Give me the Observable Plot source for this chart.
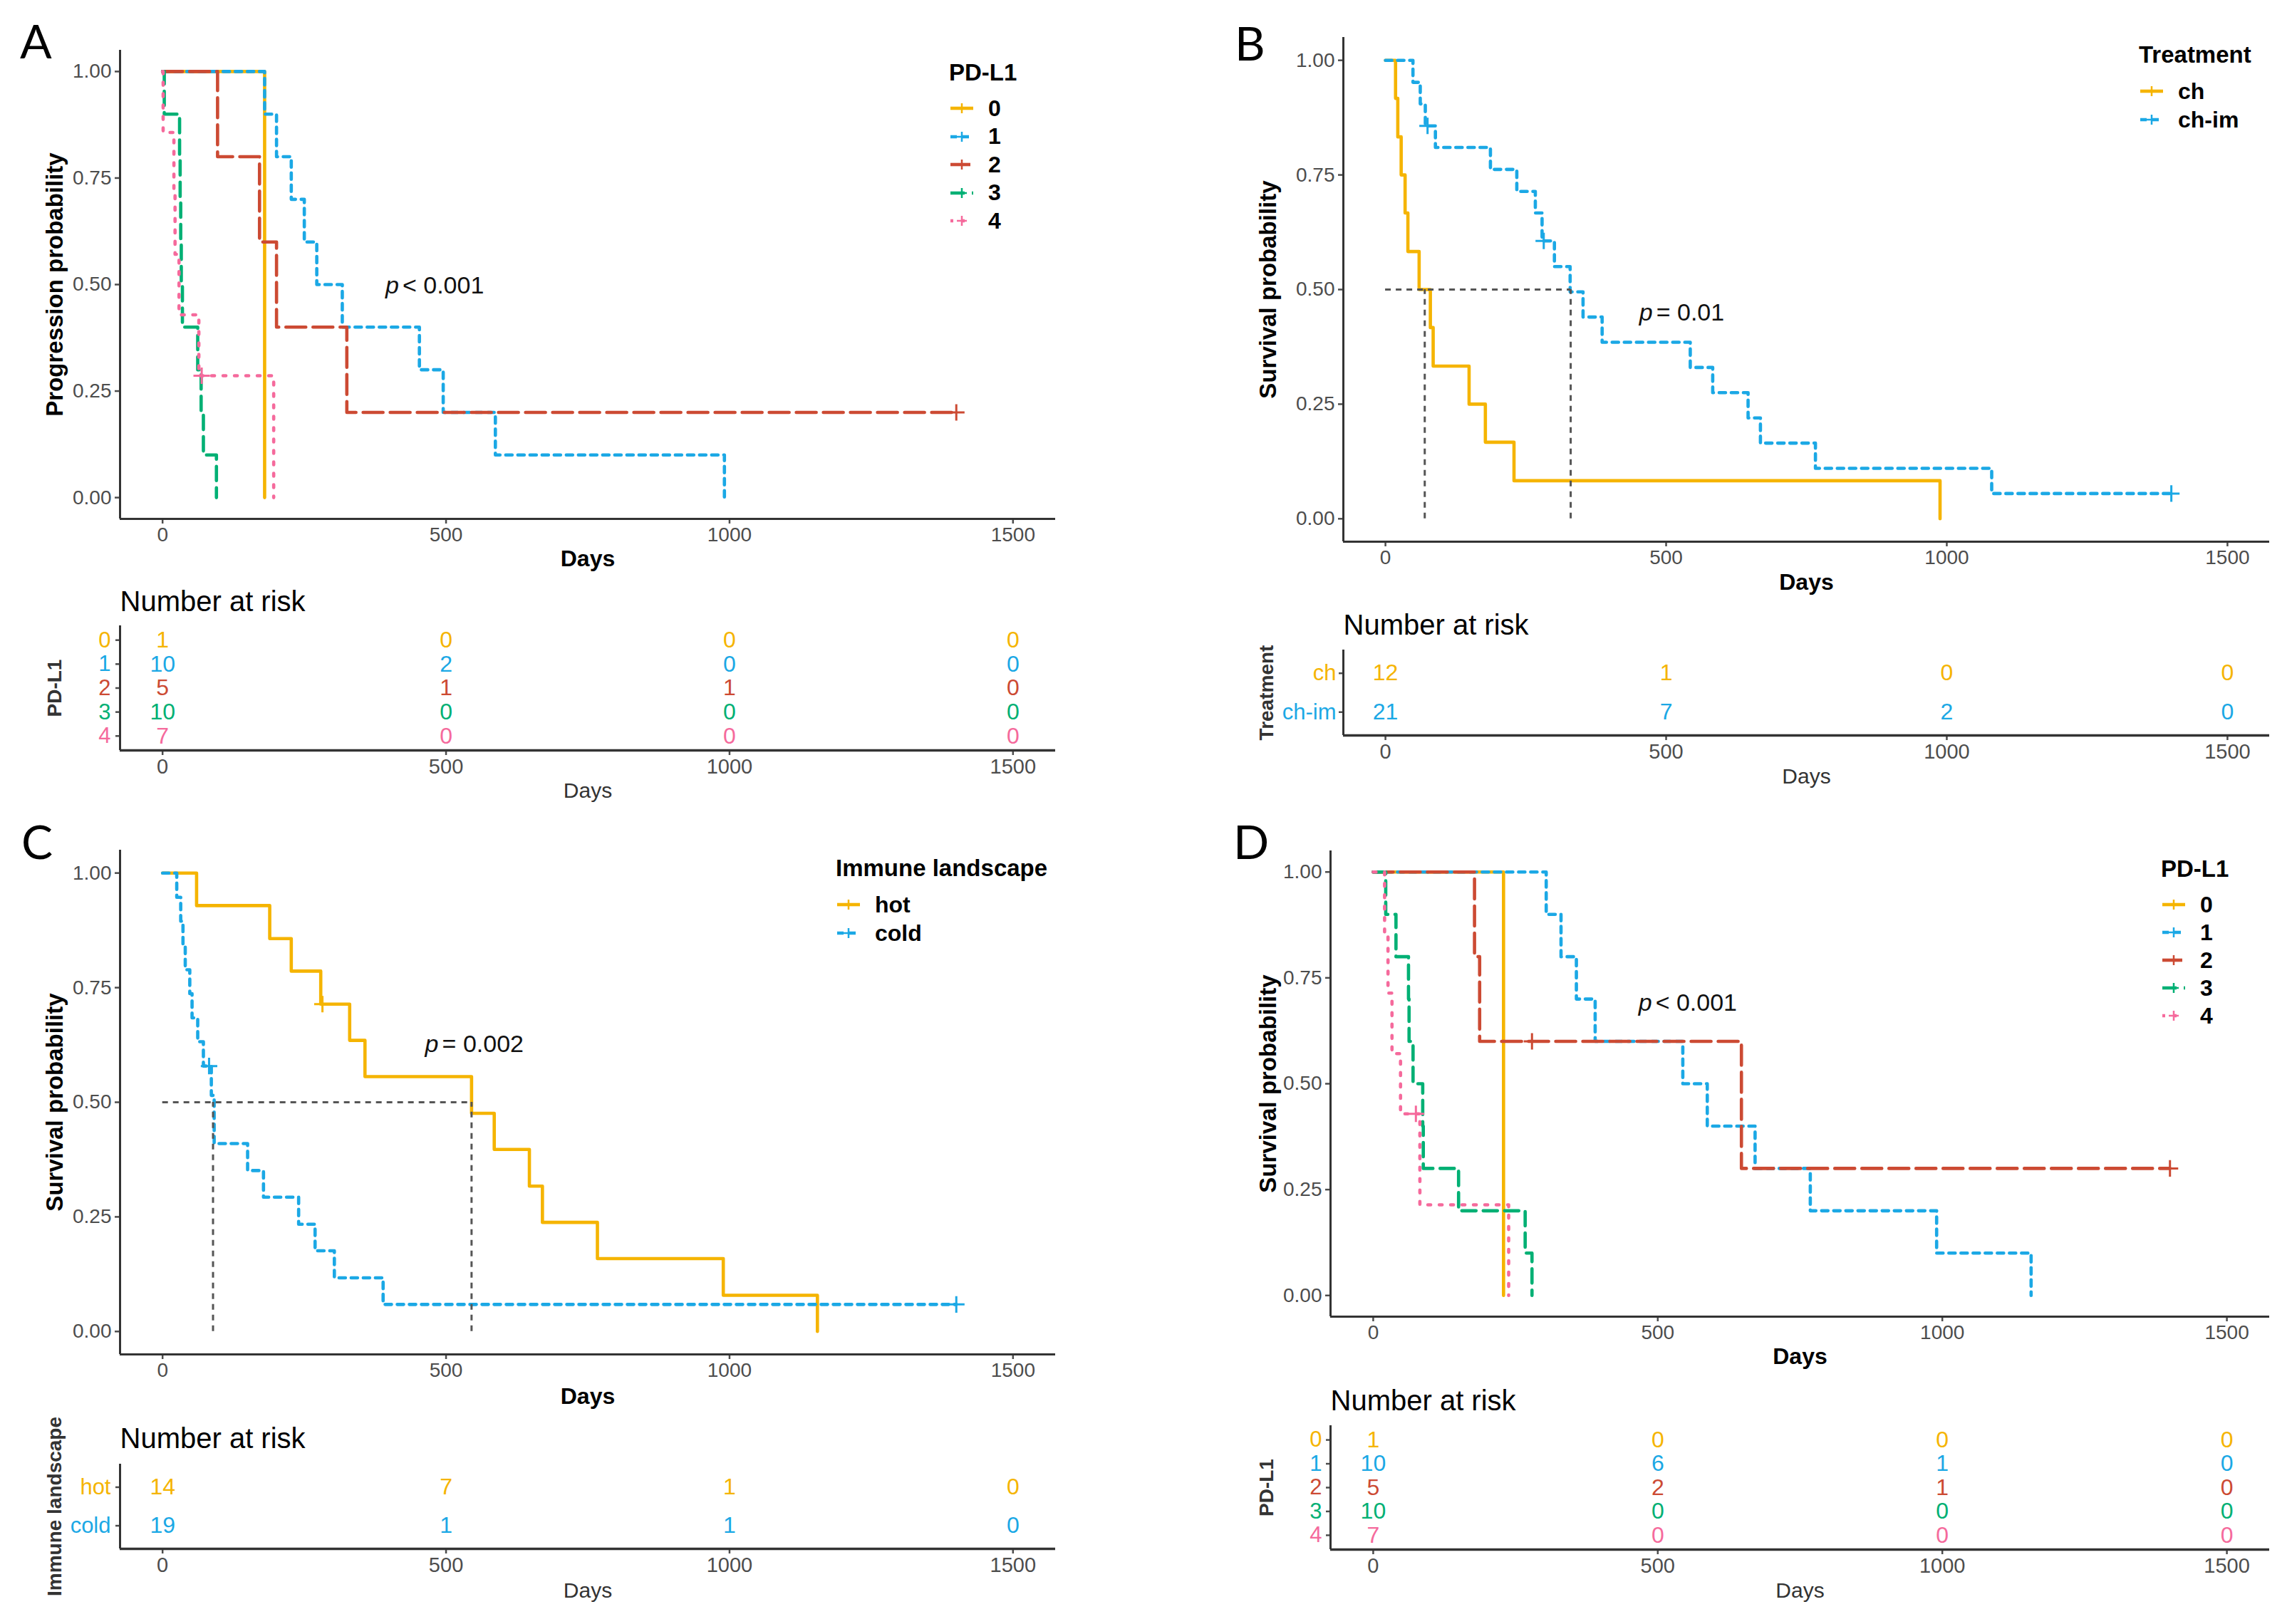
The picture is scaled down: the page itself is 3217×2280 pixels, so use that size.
<!DOCTYPE html>
<html><head><meta charset="utf-8">
<script src="https://cdn.jsdelivr.net/npm/d3@7"></script>
<script src="https://cdn.jsdelivr.net/npm/@observablehq/plot@0.6"></script>
<style>
body{margin:0;background:#fff;}
#root{position:relative;width:3217px;height:2280px;overflow:hidden;background:#fff;font-family:"Liberation Sans",Arial,sans-serif;}
.box{position:absolute;}
.letter{position:absolute;font-family:Lato,"Open Sans",sans-serif;font-size:66px;line-height:66px;color:#000;}
.legend{position:absolute;font-family:"Liberation Sans",Arial,sans-serif;font-weight:bold;color:#000;}
.legend .title{font-size:33px;height:40px;line-height:40px;white-space:nowrap;}
.legend .items{margin-top:10.5px;}
.legend .item{font-size:32px;display:flex;align-items:center;white-space:nowrap;}
.legend svg{margin-right:19px;display:block;}
</style></head><body><div id="root"></div>
<script>
// ---------- shared ----------
const pdGroups = ["0","1","2","3","4"];
const pdColors = ["#F5B400","#1BA8E5","#CC4A33","#00B074","#F56A9C"];
const pdDashes = [null,"9,8","28,10","20,10","4,12"];
const treatGroups = ["ch","ch-im"];
const immGroups = ["hot","cold"];
const twoColors = ["#F5B400","#1BA8E5"];
const twoDashes = [null,"9,8"];
const riskTimes = [0,500,1000,1500];
const xTicks = [0,500,1000,1500];
const yTicks = [0,0.25,0.5,0.75,1];
const xDomain = [-75,1575];
const yDomain = [-0.05,1.05];
const panelLetters = ["A","B","C","D"];
const pvalText = ["< 0.001","= 0.01","= 0.002","< 0.001"];
const pvalX = [393,452,463,466];
const pvalY = [0.498,0.449,0.626,0.69];

// ---------- Panel A: progression by PD-L1 ----------
const A_time = [
 [0,180],
 [0,180,201,227,250,272,317,453,495,587,991],
 [0,97,171,201,325,1400],
 [0,3,30,31,32,33,35,62,68,72,95],
 [0,1,20,22,29,64,196]
];
const A_surv = [
 [1,0],
 [1,0.9,0.8,0.7,0.6,0.5,0.4,0.3,0.2,0.1,0],
 [1,0.8,0.6,0.4,0.2,0.2],
 [1,0.9,0.8,0.7,0.6,0.5,0.4,0.3,0.2,0.1,0],
 [1,0.857,0.714,0.571,0.429,0.286,0]
];
const A_censor = [[],[],[1400],[],[69]];
const A_risk = [[1,0,0,0],[10,2,0,0],[5,1,1,0],[10,0,0,0],[7,0,0,0]];

// ---------- Panel B: survival by treatment ----------
const B_time = [
 [0,18,22,28,35,40,60,80,85,149,178,229,988],
 [0,49,62,71,89,187,234,267,279,301,329,352,386,543,583,646,668,766,1080,1400]
];
const B_surv = [
 [1,0.917,0.833,0.75,0.667,0.583,0.5,0.417,0.333,0.25,0.167,0.083,0],
 [1,0.952,0.905,0.857,0.81,0.762,0.714,0.667,0.606,0.55,0.495,0.44,0.385,0.33,0.275,0.22,0.165,0.11,0.055,0.055]
];
const B_censor = [[],[75,282,1400]];
const B_median = [70,330];
const B_risk = [[12,1,0,0],[21,7,2,0]];

// ---------- Panel C: survival by immune landscape ----------
const C_time = [
 [0,60,189,227,279,330,357,545,585,647,670,767,989,1155],
 [0,25,32,36,40,48,52,62,72,86,91,150,178,240,269,303,389,1400]
];
const C_surv = [
 [1,0.929,0.857,0.786,0.714,0.635,0.556,0.476,0.397,0.317,0.238,0.159,0.079,0],
 [1,0.947,0.895,0.842,0.789,0.737,0.684,0.632,0.579,0.515,0.41,0.351,0.293,0.234,0.176,0.117,0.059,0.059]
];
const C_censor = [[282],[82,1400]];
const C_median = [89,545];
const C_risk = [[14,7,1,0],[19,1,1,0]];

// ---------- Panel D: survival by PD-L1 ----------
const D_time = [
 [0,229],
 [0,304,330,357,390,544,587,671,768,990,1156],
 [0,178,187,647,1400],
 [0,22,40,62,63,70,87,88,150,267,279],
 [0,20,26,33,48,82,238]
];
const D_surv = [
 [1,0],
 [1,0.9,0.8,0.7,0.6,0.5,0.4,0.3,0.2,0.1,0],
 [1,0.8,0.6,0.3,0.3],
 [1,0.9,0.8,0.7,0.6,0.5,0.4,0.3,0.2,0.1,0],
 [1,0.857,0.714,0.571,0.429,0.214,0]
];
const D_censor = [[],[],[279,1400],[],[75]];
const D_risk = [[1,0,0,0],[10,6,1,0],[5,2,1,0],[10,0,0,0],[7,0,0,0]];

const root = document.getElementById("root");
const baseStyle = {background:"transparent", fontFamily:"'Liberation Sans', Arial, sans-serif", overflow:"visible"};
const fmtX = d => String(d);

function place(node, left, top, w, h) {
  const d = document.createElement("div");
  d.className = "box";
  d.style.left = left + "px"; d.style.top = top + "px";
  d.style.width = w + "px"; d.style.height = h + "px";
  d.appendChild(node);
  root.appendChild(d);
}

function mainPlot(o) {
  const series = o.groups.map((g,i) => o.times[i].map((t,j) => ({group:g, time:t, surv:o.survs[i][j]})));
  const survAt = (i,t) => { let s = o.survs[i][0]; o.times[i].forEach((tt,j) => { if (tt <= t) s = o.survs[i][j]; }); return s; };
  const cens = o.groups.flatMap((g,i) => o.censors[i].map(t => ({group:g, time:t, surv:survAt(i,t)})));
  const marks = [
    Plot.axisX({ticks:xTicks, tickFormat:fmtX, tickSize:7, tickPadding:5, fontSize:28, color:"#4d4d4d", strokeWidth:2.5, label:null}),
    Plot.axisY({ticks:yTicks, tickFormat:d3.format(".2f"), tickSize:7, tickPadding:5, fontSize:28, color:"#4d4d4d", strokeWidth:2.5, label:null}),
    Plot.ruleX([xDomain[0]], {stroke:"#333", strokeWidth:3}),
    Plot.ruleY([yDomain[0]], {stroke:"#333", strokeWidth:3})
  ];
  series.forEach((s,i) => {
    const opt = {x:"time", y:"surv", curve:"step-after", stroke:o.colors[i], strokeWidth:4.6};
    if (o.dashes[i]) opt.strokeDasharray = o.dashes[i];
    marks.push(Plot.line(s, opt));
  });
  if (o.medians) {
    marks.push(Plot.ruleY([0.5], {x1:() => 0, x2:() => d3.max(o.medians), stroke:"#555", strokeWidth:3, strokeDasharray:"8,7"}));
    marks.push(Plot.ruleX(o.medians, {x:d => d, y1:() => 0, y2:() => 0.5, stroke:"#555", strokeWidth:3, strokeDasharray:"8,7"}));
  }
  marks.push(Plot.dot(cens, {x:"time", y:"surv", symbol:"plus", r:7.5, stroke:"group", fill:"none", strokeWidth:3}));
  const pv = [{x:pvalX[o.idx], y:pvalY[o.idx], t:pvalText[o.idx]}];
  marks.push(Plot.text(pv, {x:"x", y:"y", text:() => "p", fontStyle:"italic", textAnchor:"start", fontSize:34, fill:"#111"}));
  marks.push(Plot.text(pv, {x:"x", y:"y", text:"t", textAnchor:"start", dx:24, fontSize:34, fill:"#111"}));
  marks.push(Plot.text([o.ylabel], {frameAnchor:"left", rotate:-90, textAnchor:"middle", lineAnchor:"middle", dx:o.ylabelDx, fontSize:33, fontWeight:"bold", fill:"#000"}));
  marks.push(Plot.text(["Days"], {frameAnchor:"bottom", textAnchor:"middle", dy:o.daysDy, lineAnchor:"middle", fontSize:32, fontWeight:"bold", fill:"#000"}));
  return Plot.plot({
    width:o.width, height:o.height,
    marginLeft:o.m[0], marginRight:o.m[1], marginTop:o.m[2], marginBottom:o.m[3],
    x:{domain:xDomain}, y:{domain:yDomain},
    color:{type:"ordinal", domain:o.groups, range:o.colors},
    style:baseStyle,
    marks
  });
}

function riskPlot(o) {
  const n = o.groups.length;
  const idx = o.groups.map((g,i) => i);
  const data = o.groups.flatMap((g,i) => riskTimes.map((t,j) => ({group:g, row:i, time:t, n:o.risk[i][j]})));
  const yDom = [n - 1 + 0.6, -0.6];
  return Plot.plot({
    width:o.width, height:o.height,
    marginLeft:o.m[0], marginRight:o.m[1], marginTop:o.m[2], marginBottom:o.m[3],
    x:{domain:xDomain}, y:{domain:yDom},
    color:{type:"ordinal", domain:o.groups, range:o.colors},
    style:baseStyle,
    marks:[
      Plot.axisX({ticks:xTicks, tickFormat:fmtX, tickSize:7, tickPadding:5, fontSize:29, color:"#4d4d4d", strokeWidth:2.5, label:null}),
      Plot.axisY({ticks:idx, tickFormat:() => "", tickSize:6, color:"#4d4d4d", strokeWidth:2.5, label:null}),
      Plot.ruleX([xDomain[0]], {stroke:"#333", strokeWidth:3}),
      Plot.ruleY([yDom[0]], {stroke:"#333", strokeWidth:3.5}),
      Plot.text(idx, {y:d => d, text:d => o.groups[d], frameAnchor:"left", textAnchor:"end", dx:o.rowDx, fill:d => o.groups[d], fontSize:31}),
      Plot.text(data, {x:"time", y:"row", text:d => String(d.n), fill:"group", fontSize:32}),
      Plot.text(["Number at risk"], {frameAnchor:"top-left", textAnchor:"start", lineAnchor:"middle", dy:o.titleDy, fontSize:40, fill:"#000"}),
      Plot.text([o.ylabel], {frameAnchor:"left", rotate:-90, textAnchor:"middle", lineAnchor:"middle", dx:o.ylabelDx, fontSize:28, fontWeight:"bold", fill:"#333"}),
      Plot.text(["Days"], {frameAnchor:"bottom", textAnchor:"middle", dy:o.daysDy, lineAnchor:"middle", fontSize:30, fill:"#333"})
    ]
  });
}

function legend(o) {
  const div = document.createElement("div");
  div.className = "legend";
  div.style.left = o.left + "px"; div.style.top = o.top + "px";
  const t = document.createElement("div"); t.className = "title"; t.textContent = o.title; div.appendChild(t);
  const items = document.createElement("div"); items.className = "items";
  o.groups.forEach((g,i) => {
    const it = document.createElement("div"); it.className = "item";
    it.style.height = o.step + "px"; it.style.lineHeight = o.step + "px";
    const ns = "http://www.w3.org/2000/svg";
    const s = document.createElementNS(ns, "svg");
    s.setAttribute("width", 36); s.setAttribute("height", 24);
    const ln = document.createElementNS(ns, "line");
    ln.setAttribute("x1", 2); ln.setAttribute("x2", 34); ln.setAttribute("y1", 12); ln.setAttribute("y2", 12);
    ln.setAttribute("stroke", o.colors[i]); ln.setAttribute("stroke-width", 4.6);
    if (o.dashes[i]) ln.setAttribute("stroke-dasharray", o.dashes[i]);
    const pl = document.createElementNS(ns, "path");
    pl.setAttribute("d", "M18,5V19M11,12H25"); pl.setAttribute("stroke", o.colors[i]); pl.setAttribute("stroke-width", 2.5); pl.setAttribute("fill", "none");
    s.appendChild(ln); s.appendChild(pl);
    it.appendChild(s);
    const lab = document.createElement("span"); lab.textContent = g; it.appendChild(lab);
    items.appendChild(it);
  });
  div.appendChild(items);
  root.appendChild(div);
}

function letter(ch, left, top) {
  const d = document.createElement("div"); d.className = "letter";
  d.style.left = left + "px"; d.style.top = top + "px"; d.textContent = ch;
  root.appendChild(d);
}

// Panel A
place(mainPlot({idx:0, groups:pdGroups, colors:pdColors, dashes:pdDashes, times:A_time, survs:A_surv, censors:A_censor,
  ylabel:"Progression probability", ylabelDx:-91, daysDy:56, width:1500, height:830, m:[168,19,70,102]}), 0, 0, 1500, 830);
place(riskPlot({groups:pdGroups, colors:pdColors, risk:A_risk, ylabel:"PD-L1", ylabelDx:-91, rowDx:-13, titleDy:-33, daysDy:57,
  width:1500, height:330, m:[168,19,78,77]}), 0, 800, 1500, 330);
legend({left:1332, top:82, title:"PD-L1", groups:pdGroups, colors:pdColors, dashes:pdDashes, step:39.5});

// Panel B
place(mainPlot({idx:1, groups:treatGroups, colors:twoColors, dashes:twoDashes, times:B_time, survs:B_surv, censors:B_censor, medians:B_median,
  ylabel:"Survival probability", ylabelDx:-105, daysDy:57, width:1567, height:850, m:[235,32,52,90]}), 1650, 0, 1567, 850);
place(riskPlot({groups:treatGroups, colors:twoColors, risk:B_risk, ylabel:"Treatment", ylabelDx:-107, rowDx:-10, titleDy:-34, daysDy:58,
  width:1567, height:310, m:[235,32,92,98]}), 1650, 820, 1567, 310);
legend({left:3002, top:57, title:"Treatment", groups:treatGroups, colors:twoColors, dashes:twoDashes, step:40});

// Panel C
place(mainPlot({idx:2, groups:immGroups, colors:twoColors, dashes:twoDashes, times:C_time, survs:C_surv, censors:C_censor, medians:C_median,
  ylabel:"Survival probability", ylabelDx:-91, daysDy:59, width:1500, height:830, m:[168,19,43,79]}), 0, 1150, 1500, 830);
place(riskPlot({groups:immGroups, colors:twoColors, risk:C_risk, ylabel:"Immune landscape", ylabelDx:-91, rowDx:-13, titleDy:-35, daysDy:59,
  width:1500, height:290, m:[168,19,65,106]}), 0, 1990, 1500, 290);
legend({left:1173, top:1199, title:"Immune landscape", groups:immGroups, colors:twoColors, dashes:twoDashes, step:40});

// Panel D
place(mainPlot({idx:3, groups:pdGroups, colors:pdColors, dashes:pdDashes, times:D_time, survs:D_surv, censors:D_censor,
  ylabel:"Survival probability", ylabelDx:-87, daysDy:56, width:1567, height:780, m:[217,32,44,82]}), 1650, 1150, 1567, 780);
place(riskPlot({groups:pdGroups, colors:pdColors, risk:D_risk, ylabel:"PD-L1", ylabelDx:-89, rowDx:-12, titleDy:-34, daysDy:58,
  width:1567, height:350, m:[217,32,71,105]}), 1650, 1930, 1567, 350);
legend({left:3033, top:1200, title:"PD-L1", groups:pdGroups, colors:pdColors, dashes:pdDashes, step:39});

letter(panelLetters[0], 28, 24);
letter(panelLetters[1], 1733, 27);
letter(panelLetters[2], 30, 1148);
letter(panelLetters[3], 1731, 1148);
</script></body></html>
